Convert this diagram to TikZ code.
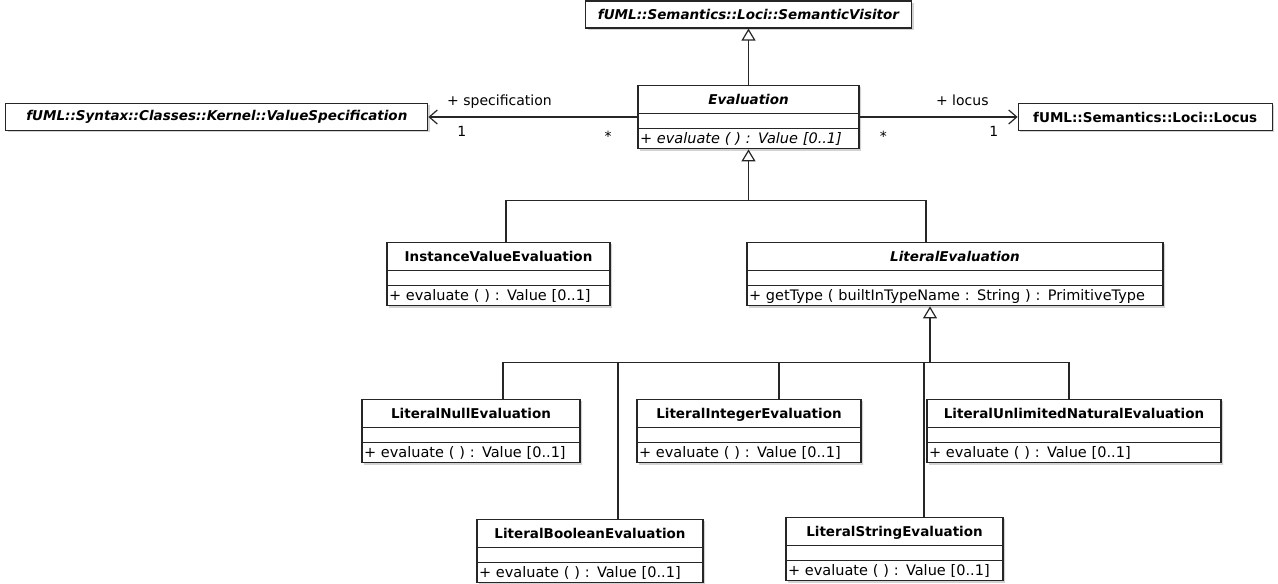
\documentclass[tikz,border=0pt]{standalone}
\usepackage{fontspec}
\setmainfont{DejaVu Sans}
\usepackage{tikz}
\usetikzlibrary{arrows.meta,positioning,shapes.multipart,shadows,calc}

% compartments of a class box
\newcommand{\cname}[1]{\rule[-8.5pt]{0pt}{27pt}{\fontsize{13.5}{16}\selectfont\bfseries #1}}
\newcommand{\cattr}{\rule{0pt}{14pt}}
\newcommand{\cop}[1]{\makebox[\linewidth][l]{\rule[-5pt]{0pt}{19pt}#1}}

\begin{document}
\begin{tikzpicture}[x=1pt, y=1pt,
    font=\fontsize{14.5}{17}\selectfont, >=Latex,
    cls/.style={draw=black!85, line width=1.2pt, fill=white, rectangle split, rectangle split parts=3,
        text width=#1, inner xsep=2pt, inner ysep=0pt, align=center,
        drop shadow={shadow xshift=2pt, shadow yshift=-2pt, opacity=0.35}},
    extbox/.style={draw=black!85, line width=1.2pt, fill=white, minimum width=#1, minimum height=27pt,
        inner sep=0pt, font=\fontsize{13.5}{16}\selectfont\bfseries,
        drop shadow={shadow xshift=2pt, shadow yshift=-2pt, opacity=0.35}},
    genline/.style={draw=black!85, line width=1.2pt},
    gen/.style={genline, -{Triangle[open, length=12pt, width=14pt]}},
    assoc/.style={genline, -{Straight Barb[length=8pt, width=14pt]}},
    lbl/.style={inner sep=0pt, text height=11pt, text depth=3pt, font=\fontsize{14}{16}\selectfont},
]
\useasboundingbox (0,0) rectangle (1278,584);

\node[cls=217pt] (eval) at (748.5,467)
    {\cname{\itshape Evaluation}
     \nodepart{two}\cattr
     \nodepart{three}\cop{\itshape + evaluate ( ) : Value [0..1]}};
\node[extbox=326pt, above=56pt of eval] (sv) {\itshape fUML::Semantics::Loci::SemanticVisitor};
\node[extbox=422pt, left=209pt of eval] (vs) {\itshape fUML::Syntax::Classes::Kernel::ValueSpecification};
\node[extbox=254pt, right=158pt of eval] (locus) {fUML::Semantics::Loci::Locus};

\node[cls=219pt] (instval) at (498.5,310)
    {\cname{InstanceValueEvaluation}
     \nodepart{two}\cattr
     \nodepart{three}\cop{+ evaluate ( ) : Value [0..1]}};
\node[cls=412pt] (literal) at (955,310)
    {\cname{\itshape LiteralEvaluation}
     \nodepart{two}\cattr
     \nodepart{three}\cop{+ getType ( builtInTypeName : String ) : PrimitiveType}};

\node[cls=214pt] (null) at (471,153)
    {\cname{LiteralNullEvaluation}
     \nodepart{two}\cattr
     \nodepart{three}\cop{+ evaluate ( ) : Value [0..1]}};
\node[cls=220pt] (integer) at (749,153)
    {\cname{LiteralIntegerEvaluation}
     \nodepart{two}\cattr
     \nodepart{three}\cop{+ evaluate ( ) : Value [0..1]}};
\node[cls=290pt] (unlim) at (1074,153)
    {\cname{LiteralUnlimitedNaturalEvaluation}
     \nodepart{two}\cattr
     \nodepart{three}\cop{+ evaluate ( ) : Value [0..1]}};
\node[cls=222pt] (boolean) at (590,33)
    {\cname{LiteralBooleanEvaluation}
     \nodepart{two}\cattr
     \nodepart{three}\cop{+ evaluate ( ) : Value [0..1]}};
\node[cls=213pt] (string) at (894.5,35)
    {\cname{LiteralStringEvaluation}
     \nodepart{two}\cattr
     \nodepart{three}\cop{+ evaluate ( ) : Value [0..1]}};

% generalisation to the visitor
\draw[gen] (eval) -- (sv);
% associations
\draw[assoc] (eval) -- node[lbl,pos=0.66,above=8pt]{+ specification}
    node[lbl,pos=0.84,below=8pt]{1} node[lbl,pos=0.14,below=13pt]{*} (vs);
\draw[assoc] (eval) -- node[lbl,pos=0.65,above=8pt]{+ locus}
    node[lbl,pos=0.85,below=8pt]{1} node[lbl,pos=0.15,below=13pt]{*} (locus);

% subclasses of Evaluation
\coordinate (evbus) at ([yshift=-51pt]eval.south);
\draw[gen] (evbus) -- (eval.south);
\draw[genline] ([xshift=7.5pt]instval.north) |- (evbus);
\draw[genline] ([xshift=-29pt]literal.north) |- (evbus);

% subclasses of LiteralEvaluation
\coordinate (litbus) at ([xshift=-25pt,yshift=-56pt]literal.south);
\draw[gen] (litbus) -- (litbus |- literal.south);
\draw[genline] ([xshift=32pt]null.north) |- (litbus);
\draw[genline] ([xshift=28pt]boolean.north) |- (litbus);
\draw[genline] ([xshift=30pt]integer.north) |- (litbus);
\draw[genline] ([xshift=29.5pt]string.north) |- (litbus);
\draw[genline] ([xshift=-5pt]unlim.north) |- (litbus);
\end{tikzpicture}
\end{document}
